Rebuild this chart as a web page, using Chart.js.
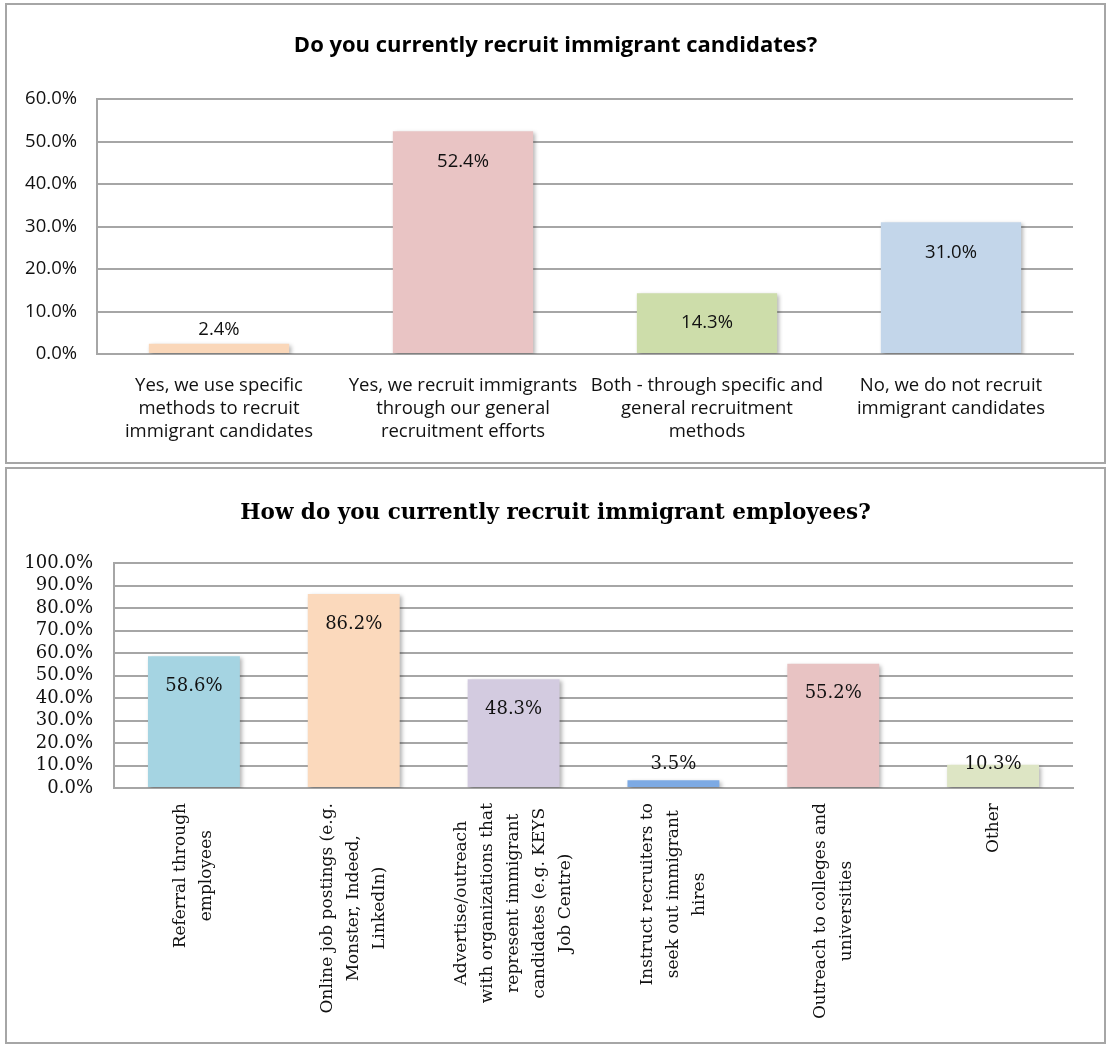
<!DOCTYPE html>
<html>
<head>
<meta charset="utf-8">
<script src="https://cdn.jsdelivr.net/npm/chart.js@4.4.1/dist/chart.umd.min.js"></script>
<style>
  body { margin: 0; background: #fff; }
  .box { position: absolute; left: 5px; width: 1101px; border: 2px solid #a6a6a6; box-sizing: border-box; background: #fff; }
  #box1 { top: 3px; height: 461px; }
  #box2 { top: 467px; height: 577px; }
  canvas { display: block; }
</style>
</head>
<body>
<div class="box" id="box1"><canvas id="recruitChart" width="1097" height="457"></canvas></div>
<div class="box" id="box2"><canvas id="methodChart" width="1097" height="573"></canvas></div>
<script>
// Do you currently recruit immigrant candidates?
const recruitTitle = 'Do you currently recruit immigrant candidates?';
const recruitLabels = [
    ['Yes, we use specific', 'methods to recruit', 'immigrant candidates'],
    ['Yes, we recruit immigrants', 'through our general', 'recruitment efforts'],
    ['Both - through specific and', 'general recruitment', 'methods'],
    ['No, we do not recruit', 'immigrant candidates'],
];
const recruitValues = [2.4, 52.4, 14.3, 31.0];
const recruitColors = ['rgb(250,215,185)', 'rgb(233,196,196)', 'rgb(205,221,170)', 'rgb(195,214,234)'];
const recruitTicks = [0, 10, 20, 30, 40, 50, 60];

// How do you currently recruit immigrant employees?
const methodTitle = 'How do you currently recruit immigrant employees?';
const methodLabels = [
    ['Referral through', 'employees'],
    ['Online job postings (e.g.', 'Monster, Indeed,', 'LinkedIn)'],
    ['Advertise/outreach', 'with organizations that', 'represent immigrant', 'candidates (e.g. KEYS', 'Job Centre)'],
    ['Instruct recruiters to', 'seek out immigrant', 'hires'],
    ['Outreach to colleges and', 'universities'],
    ['Other'],
];
const methodValues = [58.6, 86.2, 48.3, 3.5, 55.2, 10.3];
const methodColors = ['rgb(165,212,226)', 'rgb(251,217,188)', 'rgb(211,203,224)', 'rgb(125,170,228)', 'rgb(232,195,195)', 'rgb(221,229,196)'];
const methodTicks = [0, 10, 20, 30, 40, 50, 60, 70, 80, 90, 100];

const gridColor = '#a6a6a6';

// soft drop shadow under the bars
const barShadow = {
    id: 'barShadow',
    beforeDatasetsDraw(chart) {
        const ctx = chart.ctx;
        ctx.save();
        ctx.shadowColor = 'rgba(0,0,0,0.3)';
        ctx.shadowBlur = 4;
        ctx.shadowOffsetX = 2;
        ctx.shadowOffsetY = 2;
    },
    afterDatasetsDraw(chart) {
        chart.ctx.restore();
    },
};

// value labels just inside the top of each bar, kept clear of the axis
function valueLabels(font) {
    return {
        id: 'valueLabels',
        afterDatasetsDraw(chart) {
            const ctx = chart.ctx;
            const meta = chart.getDatasetMeta(0);
            const values = chart.data.datasets[0].data;
            ctx.save();
            ctx.font = font;
            ctx.fillStyle = '#111';
            ctx.textAlign = 'center';
            ctx.textBaseline = 'middle';
            meta.data.forEach((bar, i) => {
                const y = Math.min(bar.y + 30, bar.base - 23);
                ctx.fillText(values[i].toFixed(1) + '%', bar.x, y);
            });
            ctx.restore();
        },
    };
}

// title centred on the whole canvas rather than the plot
function centredTitle(text, font, y) {
    return {
        id: 'centredTitle',
        afterDraw(chart) {
            const ctx = chart.ctx;
            ctx.save();
            ctx.font = font;
            ctx.fillStyle = '#000';
            ctx.textAlign = 'center';
            ctx.textBaseline = 'middle';
            ctx.fillText(text, chart.width / 2, y);
            ctx.restore();
        },
    };
}

const sansFont = "'Open Sans', sans-serif";
const serifFont = "'DejaVu Serif', serif";

new Chart(document.getElementById('recruitChart'), {
    type: 'bar',
    data: {
        labels: recruitLabels,
        datasets: [{
            data: recruitValues,
            backgroundColor: recruitColors,
            categoryPercentage: 1,
            barPercentage: 0.575,
        }],
    },
    options: {
        responsive: false,
        animation: false,
        layout: { padding: { left: 0, right: 31, top: 94, bottom: 0 } },
        plugins: {
            legend: { display: false },
            tooltip: { enabled: false },
            title: { display: false },
        },
        scales: {
            x: {
                grid: { display: false, drawTicks: false },
                border: { display: true, color: gridColor, width: 2 },
                ticks: {
                    autoSkip: false,
                    maxRotation: 0,
                    minRotation: 0,
                    padding: 20,
                    color: '#111',
                    font: { family: sansFont, size: 18.5, lineHeight: 1.24 },
                },
                afterFit: s => { s.height = 108; },
            },
            y: {
                min: 0,
                max: 60,
                afterBuildTicks: s => { s.ticks = recruitTicks.map(v => ({ value: v })); },
                grid: { color: gridColor, lineWidth: 2, drawTicks: false },
                border: { display: true, color: gridColor, width: 2 },
                ticks: {
                    autoSkip: false,
                    padding: 20,
                    color: '#111',
                    font: { family: sansFont, size: 18.5 },
                    callback: v => v.toFixed(1) + '%',
                },
                afterFit: s => { s.width = 90; },
            },
        },
    },
    plugins: [
        barShadow,
        valueLabels("18.5px 'Open Sans', sans-serif"),
        centredTitle(recruitTitle, "bold 22px 'Open Sans', sans-serif", 41),
    ],
});

// rotated, multi-line category labels centred under each bar
const methodAxisLabels = {
    id: 'methodAxisLabels',
    afterDraw(chart) {
        const ctx = chart.ctx;
        const xScale = chart.scales.x;
        const lineHeight = 26;
        ctx.save();
        ctx.font = "17px 'DejaVu Serif', serif";
        ctx.fillStyle = '#111';
        ctx.textAlign = 'center';
        ctx.textBaseline = 'middle';
        methodLabels.forEach((lines, i) => {
            const cx = xScale.getPixelForValue(i);
            const blockLen = Math.max(...lines.map(l => ctx.measureText(l).width));
            lines.forEach((line, j) => {
                const x = cx + (j - (lines.length - 1) / 2) * lineHeight;
                ctx.save();
                ctx.translate(x, xScale.top + 15 + blockLen / 2);
                ctx.rotate(-Math.PI / 2);
                ctx.fillText(line, 0, 0);
                ctx.restore();
            });
        });
        ctx.restore();
    },
};

new Chart(document.getElementById('methodChart'), {
    type: 'bar',
    data: {
        labels: methodLabels,
        datasets: [{
            data: methodValues,
            backgroundColor: methodColors,
            categoryPercentage: 1,
            barPercentage: 0.575,
        }],
    },
    options: {
        responsive: false,
        animation: false,
        layout: { padding: { left: 0, right: 31, top: 94, bottom: 0 } },
        plugins: {
            legend: { display: false },
            tooltip: { enabled: false },
            title: { display: false },
        },
        scales: {
            x: {
                grid: { display: false, drawTicks: false },
                border: { display: true, color: gridColor, width: 2 },
                ticks: { display: false },
                afterFit: s => { s.height = 254; },
            },
            y: {
                min: 0,
                max: 100,
                afterBuildTicks: s => { s.ticks = methodTicks.map(v => ({ value: v })); },
                grid: { color: gridColor, lineWidth: 2, drawTicks: false },
                border: { display: true, color: gridColor, width: 2 },
                ticks: {
                    autoSkip: false,
                    padding: 21,
                    color: '#111',
                    font: { family: serifFont, size: 18 },
                    callback: v => v.toFixed(1) + '%',
                },
                afterFit: s => { s.width = 107; },
            },
        },
    },
    plugins: [
        barShadow,
        valueLabels("18px 'DejaVu Serif', serif"),
        methodAxisLabels,
        centredTitle(methodTitle, "bold 21.5px 'DejaVu Serif', serif", 44),
    ],
});
</script>
</body>
</html>
